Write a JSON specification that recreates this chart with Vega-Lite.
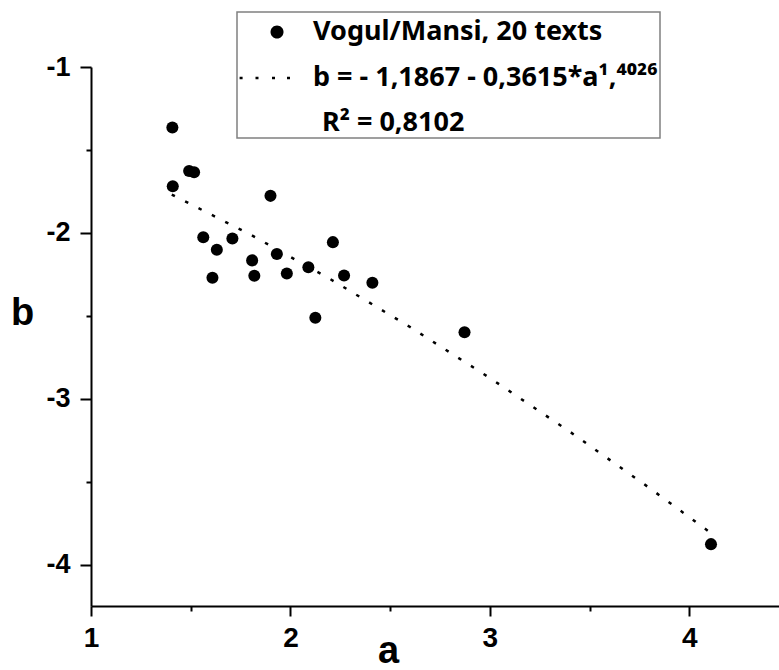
{
  "$schema": "https://vega.github.io/schema/vega-lite/v6.json",
  "width": 688,
  "height": 539,
  "autosize": {"type": "none"},
  "padding": {"left": 91, "top": 67, "right": 0, "bottom": 64},
  "background": "white",
  "config": {
    "view": {"stroke": null},
    "font": "Liberation Sans"
  },
  "datasets": {
    "points": [
      {"a": 1.408, "b": -1.365, "series": "Vogul/Mansi, 20 texts"},
      {"a": 1.492, "b": -1.627, "series": "Vogul/Mansi, 20 texts"},
      {"a": 1.517, "b": -1.634, "series": "Vogul/Mansi, 20 texts"},
      {"a": 1.410, "b": -1.719, "series": "Vogul/Mansi, 20 texts"},
      {"a": 1.900, "b": -1.777, "series": "Vogul/Mansi, 20 texts"},
      {"a": 1.563, "b": -2.026, "series": "Vogul/Mansi, 20 texts"},
      {"a": 1.631, "b": -2.102, "series": "Vogul/Mansi, 20 texts"},
      {"a": 1.709, "b": -2.034, "series": "Vogul/Mansi, 20 texts"},
      {"a": 1.609, "b": -2.271, "series": "Vogul/Mansi, 20 texts"},
      {"a": 1.808, "b": -2.166, "series": "Vogul/Mansi, 20 texts"},
      {"a": 1.819, "b": -2.259, "series": "Vogul/Mansi, 20 texts"},
      {"a": 1.932, "b": -2.128, "series": "Vogul/Mansi, 20 texts"},
      {"a": 1.982, "b": -2.245, "series": "Vogul/Mansi, 20 texts"},
      {"a": 2.090, "b": -2.208, "series": "Vogul/Mansi, 20 texts"},
      {"a": 2.213, "b": -2.056, "series": "Vogul/Mansi, 20 texts"},
      {"a": 2.269, "b": -2.257, "series": "Vogul/Mansi, 20 texts"},
      {"a": 2.411, "b": -2.301, "series": "Vogul/Mansi, 20 texts"},
      {"a": 2.125, "b": -2.512, "series": "Vogul/Mansi, 20 texts"},
      {"a": 2.873, "b": -2.600, "series": "Vogul/Mansi, 20 texts"},
      {"a": 4.109, "b": -3.877, "series": "Vogul/Mansi, 20 texts"}
    ],
    "fit": [
      {"a": 1.405, "b": -1.769, "series": "b = - 1,1867 - 0,3615*a¹,⁴⁰²⁶"},
      {"a": 1.8, "b": -2.011, "series": "b = - 1,1867 - 0,3615*a¹,⁴⁰²⁶"},
      {"a": 2.2, "b": -2.279, "series": "b = - 1,1867 - 0,3615*a¹,⁴⁰²⁶"},
      {"a": 2.6, "b": -2.568, "series": "b = - 1,1867 - 0,3615*a¹,⁴⁰²⁶"},
      {"a": 3.0, "b": -2.875, "series": "b = - 1,1867 - 0,3615*a¹,⁴⁰²⁶"},
      {"a": 3.4, "b": -3.198, "series": "b = - 1,1867 - 0,3615*a¹,⁴⁰²⁶"},
      {"a": 3.8, "b": -3.538, "series": "b = - 1,1867 - 0,3615*a¹,⁴⁰²⁶"},
      {"a": 4.094, "b": -3.797, "series": "b = - 1,1867 - 0,3615*a¹,⁴⁰²⁶"}
    ]
  },
  "encoding": {
    "x": {
      "field": "a", "type": "quantitative",
      "scale": {"domain": [1, 4.45], "nice": false, "zero": false},
      "axis": {
        "values": [1, 1.5, 2, 2.5, 3, 3.5, 4],
        "labelExpr": "datum.value % 1 === 0 ? toString(datum.value) : ''",
        "grid": false,
        "domainColor": "black", "domainWidth": 2,
        "tickColor": "black", "tickWidth": 2,
        "tickSize": {"condition": {"test": "datum.value % 1 === 0", "value": 10}, "value": 5},
        "labelFont": "Liberation Sans", "labelFontSize": 28, "labelFontWeight": "bold", "labelColor": "black",
        "labelPadding": 8, "labelFlush": false, "labelOverlap": false,
        "title": "a", "titleFont": "Liberation Sans", "titleFontSize": 38, "titleFontWeight": "bold", "titleColor": "black",
        "titleX": 297, "titleY": 56, "titleAlign": "center", "titleBaseline": "alphabetic"
      }
    },
    "y": {
      "field": "b", "type": "quantitative",
      "scale": {"domain": [-4.25, -1], "nice": false, "zero": false},
      "axis": {
        "values": [-1, -1.5, -2, -2.5, -3, -3.5, -4],
        "labelExpr": "datum.value % 1 === 0 ? toString(datum.value) : ''",
        "grid": false,
        "domainColor": "black", "domainWidth": 2,
        "tickColor": "black", "tickWidth": 2,
        "tickSize": {"condition": {"test": "datum.value % 1 === 0", "value": 11}, "value": 5},
        "labelFont": "Liberation Sans", "labelFontSize": 27, "labelFontWeight": "bold", "labelColor": "black",
        "labelPadding": 10, "labelOverlap": false, "labelFlush": false,
        "title": "b", "titleFont": "Liberation Sans", "titleFontSize": 38, "titleFontWeight": "bold", "titleColor": "black",
        "titleAngle": 0, "titleX": -69, "titleY": 246, "titleAlign": "center", "titleBaseline": "middle"
      }
    },
    "color": {
      "field": "series", "type": "nominal",
      "scale": {"domain": ["Vogul/Mansi, 20 texts", "b = - 1,1867 - 0,3615*a¹,⁴⁰²⁶"], "range": ["black", "black"]},
      "legend": {
        "orient": "none", "legendX": 146, "legendY": -55,
        "title": "R² = 0,8102",
        "titleOrient": "bottom", "titleAnchor": "start",
        "titleFont": "Noto Sans", "titleFontSize": 27, "titleFontWeight": "bold", "titleColor": "black",
        "titlePadding": 14, "titleLimit": 600,
        "padding": 2, "rowPadding": 10, "clipHeight": 36,
        "symbolSize": 3600, "symbolOffset": 0, "labelOffset": 14,
        "labelFont": "Noto Sans", "labelFontSize": 27, "labelFontWeight": "bold", "labelColor": "black", "labelLimit": 600,
        "strokeColor": "#808080", "fillColor": "white",
        "encode": {
          "legend": {"update": {"strokeWidth": {"value": 1.5}}},
          "title": {"update": {"dx": {"value": 83}}},
          "symbols": {"update": {
            "shape": {"signal": "datum.index === 0 ? 'M0.484,0 A0.217,0.217 0 1,0 0.05,0 A0.217,0.217 0 1,0 0.484,0 Z' : 'M-0.98,-0.045h0.1v0.09h-0.1z M-0.45,-0.045h0.1v0.09h-0.1z M0.1,-0.045h0.1v0.09h-0.1z M0.6,-0.045h0.1v0.09h-0.1z'"},
            "fill": {"value": "black"},
            "fillOpacity": {"value": 1},
            "stroke": {"value": "transparent"},
            "strokeWidth": {"value": 0},
            "opacity": {"value": 1}
          }}
        }
      }
    }
  },
  "layer": [
    {
      "data": {"name": "fit"},
      "mark": {"type": "line", "strokeWidth": 2.5, "strokeDash": [3.5, 11.5], "strokeCap": "butt"}
    },
    {
      "data": {"name": "points"},
      "mark": {"type": "point", "filled": true, "shape": "circle", "size": 145, "opacity": 1}
    }
  ]
}
